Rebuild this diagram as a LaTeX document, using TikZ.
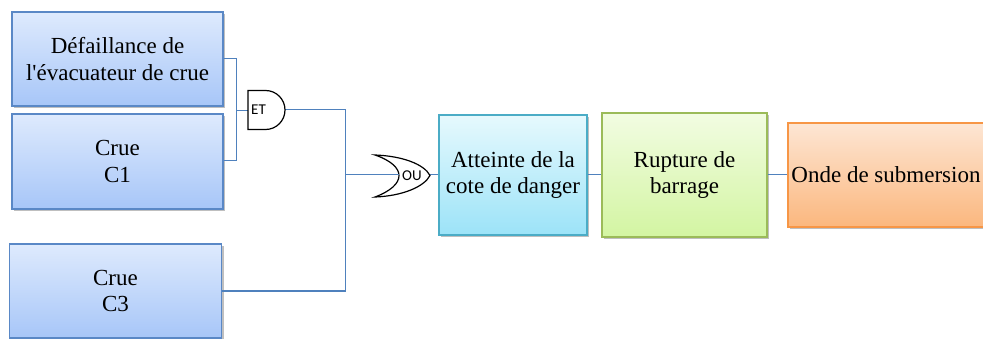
\documentclass[tikz,border=0pt]{standalone}
\usepackage{fontspec}
\setmainfont{Liberation Serif}
\newfontfamily\gatefont{Carlito}
\usetikzlibrary{shadows}
\definecolor{bluebd}{HTML}{5A88C6}
\definecolor{bluetop}{HTML}{DEEAFD}
\definecolor{bluebot}{HTML}{A7C6F8}
\definecolor{cyanbd}{HTML}{4BACC6}
\definecolor{cyantop}{HTML}{E6F9FD}
\definecolor{cyanbot}{HTML}{9CE3F8}
\definecolor{greenbd}{HTML}{9BBB59}
\definecolor{greentop}{HTML}{F2FCE2}
\definecolor{greenbot}{HTML}{D3F5A2}
\definecolor{orangebd}{HTML}{F79646}
\definecolor{orangetop}{HTML}{FDE6D4}
\definecolor{orangebot}{HTML}{FBB77E}
\definecolor{wire}{HTML}{4F81BD}
\tikzset{
  evbox/.style={draw, line width=1.3pt, align=center, inner sep=0pt,
    font=\fontsize{23}{26.5}\selectfont,
    drop shadow={shadow xshift=2pt, shadow yshift=-2.5pt, fill=black, opacity=0.25}},
  bluebox/.style={evbox, draw=bluebd, top color=bluetop, bottom color=bluebot},
  cyanbox/.style={evbox, draw=cyanbd, top color=cyantop, bottom color=cyanbot},
  greenbox/.style={evbox, draw=greenbd, top color=greentop, bottom color=greenbot},
  orangebox/.style={evbox, draw=orangebd, top color=orangetop, bottom color=orangebot},
  wireline/.style={draw=wire, line width=1pt},
  gateline/.style={draw=black, line width=1.2pt, fill=white},
  gatelabel/.style={font=\gatefont\fontsize{15}{16}\selectfont, inner sep=0pt}
}
\begin{document}
\begin{tikzpicture}[x=1pt,y=-1pt]
\useasboundingbox (0,0) rectangle (983,339);
% boxes
\node[bluebox, minimum width=211pt, minimum height=94pt] (A) at (117.5,59) {Défaillance de\\l\textquotesingle évacuateur de crue};
\node[bluebox, minimum width=211pt, minimum height=95pt] (B) at (117.5,161.5) {Crue\\C1};
\node[bluebox, minimum width=212pt, minimum height=94pt] (C) at (115.5,291) {Crue\\C3};
\node[cyanbox, minimum width=148pt, minimum height=120pt] (D) at (513,175) {Atteinte de la\\cote de danger};
\node[greenbox, minimum width=165pt, minimum height=124pt] (E) at (684.5,175) {Rupture de\\barrage};
\node[orangebox, minimum width=196pt, minimum height=104pt] (F) at (886,175) {Onde de submersion};
% gate coordinates
\coordinate (andin) at (248,110.5);
\coordinate (andout) at (285,110);
\coordinate (orin) at (400,175);
\coordinate (orout) at (430,175);
\coordinate (jA) at (236,110.5);
\coordinate (jO) at (345,175);
% connectors
\draw[wireline] (A.east |- 0,59) -| (jA);
\draw[wireline] (B.east |- 0,161) -| (jA);
\draw[wireline] (jA) -- (andin);
\draw[wireline] (andout) -| (jO);
\draw[wireline] (C.east |- 0,291) -| (jO);
\draw[wireline] (jO) -- (orin);
\draw[wireline] (orout) -- (D.west);
\draw[wireline] (D.east) -- (E.west);
\draw[wireline] (E.east) -- (F.west);
% AND gate
\draw[gateline] (248,90.5) -- (265.5,90.5) .. controls (276.3,90.5) and (285,99.2) .. (285,110)
  .. controls (285,120.8) and (276.3,129.5) .. (265.5,129.5) -- (248,129.5) -- cycle;
\node[gatelabel, anchor=west] (ET) at (251,110) {ET};
% OR gate
\draw[gateline] (375,155) .. controls (402,156) and (424,164) .. (430,175.5)
  .. controls (424,187) and (402,196) .. (375,197)
  .. controls (407,185) and (407,166) .. (375,155) -- cycle;
\draw[wireline] (jO) -- (399,175);
\node[gatelabel, anchor=west] (OU) at (402,176) {OU};
\end{tikzpicture}
\end{document}
